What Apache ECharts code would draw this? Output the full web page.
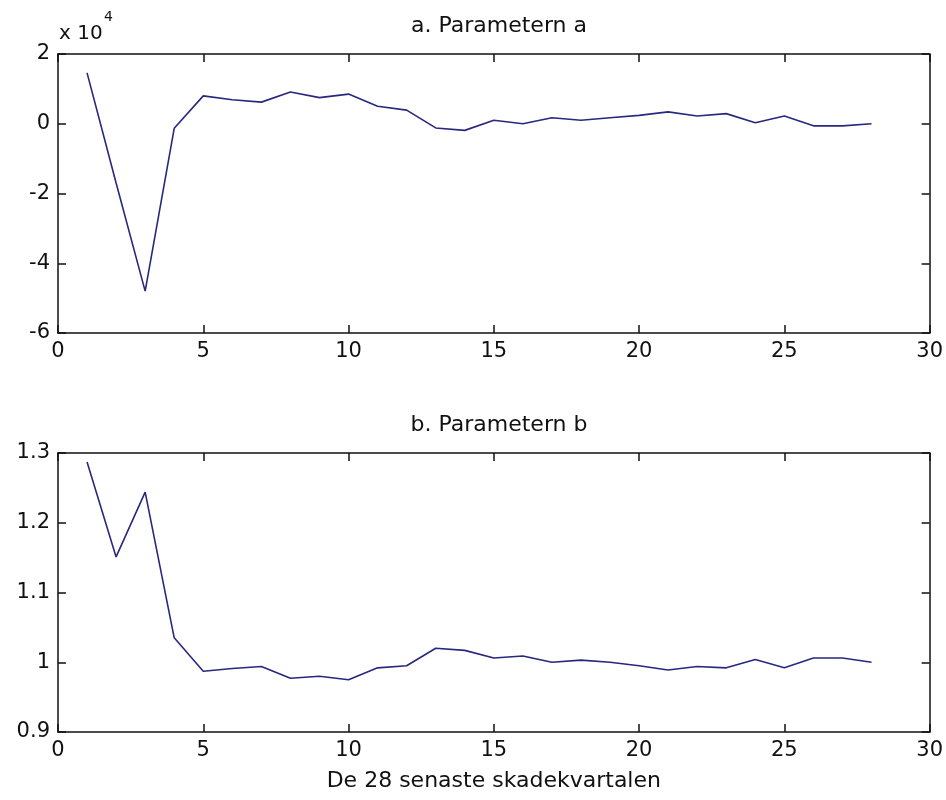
<!DOCTYPE html>
<html>
<head>
<meta charset="utf-8">
<script src="https://cdn.jsdelivr.net/npm/echarts@6/dist/echarts.min.js"></script>
<style>
html,body{margin:0;padding:0;background:#fff;}
#c{width:946px;height:800px;}
</style>
</head>
<body>
<div id="c"></div>
<script>
// Quarter index (1..28)
var quarters = [1,2,3,4,5,6,7,8,9,10,11,12,13,14,15,16,17,18,19,20,21,22,23,24,25,26,27,28];
// Parameter a, in units of 10^4
var paramA = [1.46,-1.7,-4.8,-0.13,0.8,0.69,0.62,0.91,0.75,0.85,0.5,0.39,-0.12,-0.19,0.1,0.0,0.17,0.1,0.17,0.24,0.34,0.22,0.29,0.03,0.22,-0.06,-0.06,0.0];
// Parameter b
var paramB = [1.287,1.151,1.244,1.035,0.987,0.991,0.994,0.977,0.980,0.975,0.992,0.995,1.020,1.017,1.006,1.009,1.000,1.003,1.000,0.995,0.989,0.994,0.992,1.004,0.992,1.006,1.006,1.000];
var titleA = 'a. Parametern a';
var titleB = 'b. Parametern b';
var xLabel = 'De 28 senaste skadekvartalen';

var FONT = 'DejaVu Sans';
var lineColor = '#28287f';

function pairs(xs, ys){ return xs.map(function(x,i){ return [x, ys[i]]; }); }

function xAx(grid, pos, labels, name){
  return {
    type:'value', gridIndex:grid, position:pos, min:0, max:30, interval:5,
    axisLine:{show:true, onZero:false, lineStyle:{color:'#111', width:1.5}},
    axisTick:{show:true, inside:true, length:8, lineStyle:{color:'#111', width:1.5}},
    axisLabel:{show:labels, color:'#111', fontFamily:FONT, fontSize:21, margin:8},
    splitLine:{show:false},
    name: name || '', nameLocation:'middle', nameGap:38,
    nameTextStyle:{color:'#111', fontFamily:FONT, fontSize:22}
  };
}
function yAx(grid, pos, labels, mn, mx, iv){
  return {
    type:'value', gridIndex:grid, position:pos, min:mn, max:mx, interval:iv,
    axisLine:{show:true, onZero:false, lineStyle:{color:'#111', width:1.5}},
    axisTick:{show:true, inside:true, length:8, lineStyle:{color:'#111', width:1.5}},
    axisLabel:{show:labels, color:'#111', fontFamily:FONT, fontSize:21, margin:8},
    splitLine:{show:false}
  };
}

var chart = echarts.init(document.getElementById('c'), null, {renderer:'canvas'});
chart.setOption({
  animation:false,
  backgroundColor:'#fff',
  title:[
    {text:titleA, left:494, top:10, textAlign:'center', textStyle:{fontFamily:FONT, fontSize:22, fontWeight:'normal', color:'#111'}},
    {text:titleB, left:494, top:409, textAlign:'center', textStyle:{fontFamily:FONT, fontSize:22, fontWeight:'normal', color:'#111'}}
  ],
  grid:[
    {left:58, top:54, width:872, height:279},
    {left:58, top:453, width:872, height:279}
  ],
  xAxis:[
    xAx(0,'bottom',true),
    xAx(0,'top',false),
    xAx(1,'bottom',true,xLabel),
    xAx(1,'top',false)
  ],
  yAxis:[
    yAx(0,'left',true,-6,2,2),
    yAx(0,'right',false,-6,2,2),
    yAx(1,'left',true,0.9,1.3,0.1),
    yAx(1,'right',false,0.9,1.3,0.1)
  ],
  graphic:[
    {type:'text', left:59, top:24, style:{text:'x 10', fontFamily:FONT, fontSize:20, fill:'#111'}},
    {type:'text', left:104, top:10, style:{text:'4', fontFamily:FONT, fontSize:14, fill:'#111'}}
  ],
  series:[
    {type:'line', xAxisIndex:0, yAxisIndex:0, data:pairs(quarters,paramA), showSymbol:false, lineStyle:{color:lineColor, width:1.6}},
    {type:'line', xAxisIndex:2, yAxisIndex:2, data:pairs(quarters,paramB), showSymbol:false, lineStyle:{color:lineColor, width:1.6}}
  ]
});
</script>
</body>
</html>
